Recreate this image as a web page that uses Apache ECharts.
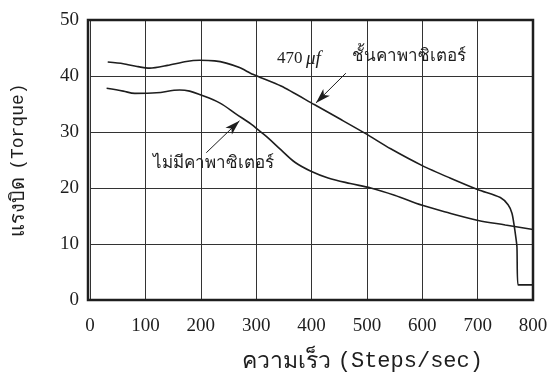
<!DOCTYPE html>
<html>
<head>
<meta charset="utf-8">
<script src="https://cdn.jsdelivr.net/npm/echarts@6/dist/echarts.min.js"></script>
<style>
  html, body { margin: 0; padding: 0; background: #fff; }
  #chart { width: 551px; height: 383px; }
</style>
</head>
<body>
<div id="chart"></div>
<script>
// speed (steps/sec), torque
const withCap = [
    [32, 42.5], [60, 42.2], [85, 41.7], [108, 41.4], [140, 41.9], [174, 42.6],
    [198, 42.8], [225, 42.7], [246, 42.3], [270, 41.5], [294, 40.3], [345, 38.2],
    [405, 34.9], [450, 32.4], [498, 29.7], [543, 27.0], [600, 24.0], [650, 21.8],
    [701, 19.7], [741, 18.3], [755, 17.0], [762, 15.5], [766, 13.3], [769, 11.2],
    [771, 9.5], [773, 2.7], [800, 2.7]
];
const noCap = [
    [30, 37.8], [60, 37.3], [81, 36.9], [120, 37.0], [162, 37.5], [180, 37.3],
    [198, 36.7], [234, 35.2], [264, 33.2], [291, 31.4], [306, 30.2], [321, 29.0],
    [345, 26.8], [370, 24.6], [399, 23.0], [430, 21.8], [470, 20.8], [507, 20.0],
    [550, 18.7], [600, 16.9], [650, 15.5], [701, 14.2], [750, 13.4], [800, 12.6]
];
// arrow annotations, data coords [from, to]
const arrowCap = [[462, 40.5], [408, 35.2]];
const arrowNoCap = [[210, 26.3], [270, 32.0]];

const xTitleTh = 'ความเร็ว';
const xTitleEn = '(Steps/sec)';
const yTitleTh = 'แรงบิด';
const yTitleEn = '(Torque)';
const capLabel = 'ชั้นคาพาซิเตอร์';
const noCapLabel = 'ไม่มีคาพาซิเตอร์';

const ink = '#1e1e1e';
const serif = '"Liberation Serif", serif';
const mono = '"Liberation Mono", monospace';
const thai = '"Noto Sans", sans-serif';

const chart = echarts.init(document.getElementById('chart'));

function arrow(pair) {
    return {
        silent: true,
        symbol: ['none', 'arrow'],
        symbolSize: [7, 15],
        label: {show: false},
        lineStyle: {color: ink, width: 1, type: 'solid'},
        data: [[{coord: pair[0]}, {coord: pair[1]}]]
    };
}

chart.setOption({
    backgroundColor: '#fff',
    animation: false,
    grid: {left: 88, right: 18, top: 20, bottom: 83},
    xAxis: {
        type: 'value',
        min: 0, max: 800, interval: 100,
        axisLine: {show: false},
        axisTick: {show: false},
        axisLabel: {color: ink, fontFamily: serif, fontSize: 19, margin: 17},
        splitLine: {show: true, lineStyle: {color: '#333', width: 1}},
        name: '{th|' + xTitleTh + '}  {en|' + xTitleEn + '}',
        nameLocation: 'middle',
        nameGap: 50,
        nameTextStyle: {
            color: ink, padding: [0, 0, 0, 102],
            rich: {
                th: {fontFamily: thai, fontSize: 23, color: ink},
                en: {fontFamily: mono, fontSize: 22, color: ink}
            }
        }
    },
    yAxis: {
        type: 'value',
        min: 0, max: 50, interval: 10,
        axisLine: {show: false},
        axisTick: {show: false},
        axisLabel: {color: ink, fontFamily: serif, fontSize: 19, margin: 11},
        splitLine: {show: true, lineStyle: {color: '#333', width: 1}},
        name: '{th|' + yTitleTh + '}  {en|' + yTitleEn + '}',
        nameLocation: 'middle',
        nameGap: 62,
        nameRotate: 90,
        nameTextStyle: {
            color: ink, padding: [0, 0, 0, 0],
            rich: {
                th: {fontFamily: thai, fontSize: 20, color: ink},
                en: {fontFamily: mono, fontSize: 18, color: ink}
            }
        }
    },
    graphic: [
        {
            type: 'rect', silent: true, z: 10,
            shape: {x: 88, y: 20, width: 445, height: 280},
            style: {fill: 'none', stroke: ink, lineWidth: 2.5}
        },
        {
            type: 'text', silent: true, z: 10, left: 277, top: 50,
            style: {text: '470 ', font: '17px "Liberation Serif"', fill: ink}
        },
        {
            type: 'text', silent: true, z: 10, left: 306, top: 49,
            style: {text: 'μf', font: 'italic 19px "Liberation Serif"', fill: ink}
        },
        {
            type: 'text', silent: true, z: 10, left: 352, top: 48,
            style: {text: capLabel, font: '17px "Noto Sans", sans-serif', fill: ink}
        },
        {
            type: 'text', silent: true, z: 10, left: 153, top: 155,
            style: {text: noCapLabel, font: '17px "Noto Sans", sans-serif', fill: ink}
        }
    ],
    series: [
        {
            type: 'line',
            data: withCap,
            showSymbol: false,
            smooth: 0.25,
            lineStyle: {color: ink, width: 1.6},
            markLine: arrow(arrowCap)
        },
        {
            type: 'line',
            data: noCap,
            showSymbol: false,
            smooth: 0.35,
            lineStyle: {color: ink, width: 1.6},
            markLine: arrow(arrowNoCap)
        }
    ]
});
</script>
</body>
</html>
